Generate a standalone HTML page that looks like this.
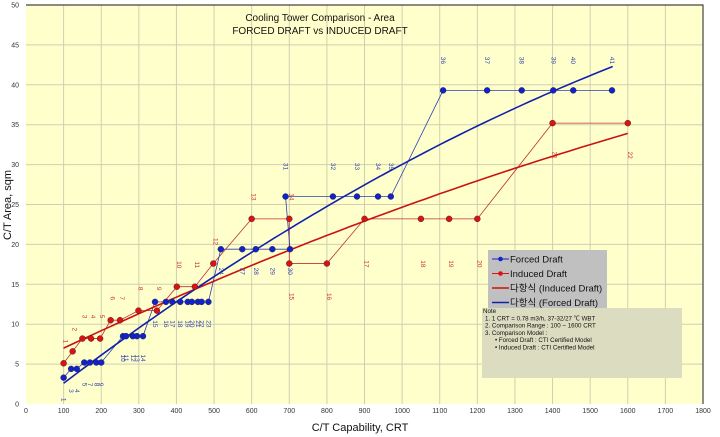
<!DOCTYPE html>
<html><head><meta charset="utf-8"><style>
html,body{margin:0;padding:0;background:#fff;}
svg{display:block;font-family:"Liberation Sans","Noto Sans CJK KR",sans-serif;}
</style></head><body>
<svg id="chart" width="720" height="437" viewBox="0 0 720 437"></svg>
<script>
const xTicks=[0,100,200,300,400,500,600,700,800,900,1000,1100,1200,1300,1400,1500,1600,1700,1800];
const yTicks=[0,5,10,15,20,25,30,35,40,45,50];
const forcedX=[100,120,135,155,170,187,200,258,266,284,295,311,343,372,389,410,430,441,457,467,485,518,575,611,655,702,690,816,880,936,970,1109,1226,1318,1402,1455,1558];
const forcedY=[3.3,4.4,4.4,5.2,5.2,5.2,5.2,8.5,8.5,8.5,8.5,8.5,12.8,12.8,12.8,12.8,12.8,12.8,12.8,12.8,12.8,19.4,19.4,19.4,19.4,19.4,26,26,26,26,26,39.3,39.3,39.3,39.3,39.3,39.3];
const forcedLbl=[1,3,4,5,7,8,9,10,11,12,13,14,15,16,17,18,19,20,21,22,23,24,27,28,29,30,31,32,33,34,35,36,37,38,39,40,41];
const inducedX=[100,124,150,173,197,225,250,299,348,401,449,498,600,700,700,800,900,1050,1125,1200,1400,1600];
const inducedY=[5.1,6.6,8.2,8.2,8.2,10.5,10.5,11.7,11.7,14.7,14.7,17.6,23.2,23.2,17.6,17.6,23.2,23.2,23.2,23.2,35.2,35.2];
const forcedPoly=[-1.035,0.03694,-5.875e-6];
const inducedPoly=[4.759,0.02269,-2.796e-6];
const NS='http://www.w3.org/2000/svg';
const svg=document.getElementById('chart');
const X0=26,X1=703,Y0=404,Y1=5;
const sx=v=>X0+(v-0)/(1800)*(X1-X0);
const sy=v=>Y0-(v/50)*(Y0-Y1);
function mk(tag,attrs,parent){const e=document.createElementNS(NS,tag);for(const k in attrs)e.setAttribute(k,attrs[k]);(parent||svg).appendChild(e);return e;}
let bg=mk('rect',{x:X0,y:Y1,width:X1-X0,height:Y0-Y1,fill:'#ffffcc'});


xTicks.forEach(t=>{
  if(t>0){let l=mk('line',{x1:sx(t),x2:sx(t),y1:Y1,y2:Y0,stroke:'#cfcfb0','stroke-width':1});
  
  }
  let tx=mk('text',{x:sx(t),y:413,'font-size':7,'text-anchor':'middle',fill:'#333'});tx.textContent=t;
  
  
});
yTicks.forEach(t=>{
  if(t>0){let l=mk('line',{x1:X0,x2:X1,y1:sy(t),y2:sy(t),stroke:'#cfcfb0','stroke-width':1});
  
  }
  let tx=mk('text',{x:19,y:sy(t)+2.5,'font-size':7,'text-anchor':'end',fill:'#333'});tx.textContent=t;
  
  
});
let bd=mk('path',{d:`M${X0} ${Y1}H${X1}V${Y0}`,fill:'none',stroke:'#444','stroke-width':1.2});


// title
let t1=mk('text',{x:320,y:21,'font-size':10,'text-anchor':'middle',fill:'#111'});t1.textContent='Cooling Tower Comparison - Area';


let t2=mk('text',{x:320,y:34,'font-size':10,'text-anchor':'middle',fill:'#111'});t2.textContent='FORCED DRAFT vs INDUCED DRAFT';


let xt=mk('text',{x:360,y:431,'font-size':11,'text-anchor':'middle',fill:'#111'});xt.textContent='C/T Capability, CRT';


let yt=mk('text',{x:0,y:0,'font-size':11,'text-anchor':'middle',fill:'#111',transform:'translate(11,205) rotate(-90)'});yt.textContent='C/T Area, sqm';


// series lines
function series(xs,ys,color,name){
  let pts=xs.map((x,i)=>sx(x)+','+sy(ys[i])).join(' ');
  let pl=mk('polyline',{points:pts,fill:'none',stroke:color,'stroke-width':0.8});
  
  
}
series(inducedX,inducedY,'#c03030','induced-draft');
series(forcedX,forcedY,'#3040b0','forced-draft');
function trend(p,x0,x1,color,name){
  let d='';for(let x=x0;x<=x1;x+=20){const y=p[0]+p[1]*x+p[2]*x*x;d+=(d?'L':'M')+sx(x).toFixed(1)+' '+sy(y).toFixed(1);}
  let pa=mk('path',{d:d,fill:'none',stroke:color,'stroke-width':1.6});
  
  
}
trend(inducedPoly,100,1600,'#cc1111','induced-trendline');
trend(forcedPoly,100,1560,'#1122aa','forced-trendline');
function dots(xs,ys,color,name){
  xs.forEach((x,i)=>{let c=mk('circle',{cx:sx(x),cy:sy(ys[i]),r:3,fill:color,stroke:'#222','stroke-width':0.4});
  
  });
}
dots(inducedX,inducedY,'#dd1111','induced-draft');
dots(forcedX,forcedY,'#1122cc','forced-draft');
function lbl(x,y,txt,color){
  let t=mk('text',{x:0,y:0,'font-size':6.5,'text-anchor':'middle',fill:color,transform:`translate(${x},${y}) rotate(90)`});t.textContent=txt;
  
  
}
forcedX.forEach((x,i)=>{
  const v=forcedY[i];let y;
  if(v>=26)y=sy(v)-30;else y=sy(v)+22;
  lbl(sx(x)-2,y,forcedLbl[i],'#3344aa');
});
inducedX.forEach((x,i)=>{
  const v=inducedY[i];let y=sy(v)-22;
  if(i===14||i===15)y=sy(v)+33;
  if(i>=16&&i<=19)y=sy(v)+45;
  if(i>=20)y=sy(v)+32;
  lbl(sx(x),y,i+1,'#cc3333');
});
// legend
const lg=mk('g',{});


mk('rect',{x:488,y:250,width:119,height:58,fill:'#c0c0c0'},lg);
const items=[['Forced Draft','#1122cc',true],['Induced Draft','#dd1111',true],['다항식 (Induced Draft)','#cc1111',false],['다항식 (Forced Draft)','#1122aa',false]];
items.forEach((it,i)=>{
  const y=259+i*14.5;
  mk('line',{x1:492,x2:509,y1:y,y2:y,stroke:it[1],'stroke-width':it[2]?1:1.6},lg);
  if(it[2])mk('circle',{cx:500.5,cy:y,r:2.3,fill:it[1]},lg);
  let t=mk('text',{x:510,y:y+3.5,'font-size':9.5,fill:'#111'},lg);t.textContent=it[0];
  
  
});
// note
const ng=mk('g',{});


mk('rect',{x:482,y:308,width:200,height:70,fill:'#dcdcc0'},ng);
const notes=[['Note',483],['1. 1 CRT = 0.78 m3/h, 37-32/27 ℃ WBT',485],['2. Comparison Range : 100 ~ 1600 CRT',485],['3. Comparison Model :',485],['• Forced Draft : CTI Certified Model',495],['• Induced Draft : CTI Certified Model',495]];
notes.forEach((n,i)=>{let t=mk('text',{x:n[1],y:313+i*7.3,'font-size':6.2,fill:'#111'},ng);t.textContent=n[0];
  
  });
</script>
</body></html>
